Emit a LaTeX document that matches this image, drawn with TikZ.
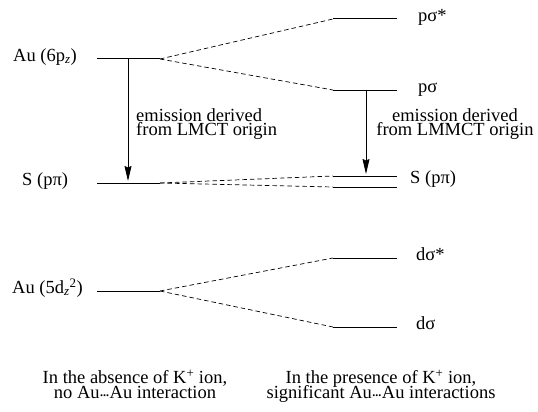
\documentclass[tikz,border=0pt]{standalone}
\usepackage{fontspec}
\setmainfont{Liberation Serif}
\usetikzlibrary{arrows.meta}
\newcommand{\audots}{\kern0.5pt\raisebox{0.12em}{\fontsize{12}{12}\selectfont\bfseries...}\kern0.5pt}
\newcommand{\tightlines}{\lineskiplimit=-100pt\relax}
\begin{document}
\begin{tikzpicture}[x=1pt,y=-1pt,
  lvl/.style={line width=1pt},
  conn/.style={line width=0.7pt, dash pattern=on 4.5pt off 3pt},
  emis/.style={line width=0.8pt, -{Stealth[length=15pt,width=7pt,inset=1.5pt]}},
  lbl/.style={inner sep=0pt, font=\fontsize{18.5}{13.3}\selectfont},
  twoline/.style={inner sep=0pt, font={\fontsize{18.5}{14}\selectfont\tightlines}},
  foot/.style={inner sep=0pt, align=center, font={\fontsize{18.5}{15.5}\selectfont\tightlines}}]
\useasboundingbox (0,0) rectangle (538,412);
% left levels
\coordinate (a6l) at (97,59);  \coordinate (a6r) at (160,59);
\coordinate (spl) at (97,183); \coordinate (spr) at (160,183);
\coordinate (a5l) at (97,291); \coordinate (a5r) at (160,291);
% right levels
\coordinate (psal) at (333,19);  \coordinate (psar) at (397,19);
\coordinate (psl)  at (333,90);  \coordinate (psr)  at (397,90);
\coordinate (s1l)  at (333,176); \coordinate (s1r)  at (397,176);
\coordinate (s2l)  at (333,187); \coordinate (s2r)  at (397,187);
\coordinate (dsal) at (333,258); \coordinate (dsar) at (397,258);
\coordinate (dsl)  at (333,327); \coordinate (dsr)  at (397,327);
\foreach \p in {a6,sp,a5,psa,ps,s1,s2,dsa,ds}{\draw[lvl] (\p l) -- (\p r);}
% correlation lines
\draw[conn] (a6r) -- (psal);
\draw[conn] (a6r) -- (psl);
\draw[conn] (spr) -- (s1l);
\draw[conn] (spr) -- (s2l);
\draw[conn] (a5r) -- (dsal);
\draw[conn] (a5r) -- (dsl);
% emission arrows
\coordinate (e1s) at (128,59);  \coordinate (e1e) at (128,181);
\coordinate (e2s) at (366,90);  \coordinate (e2e) at (366,174);
\draw[emis] (e1s) -- (e1e);
\draw[emis] (e2s) -- (e2e);
% labels
\node[lbl, anchor=mid west] (lau6) at (13,59) {Au (6p\textsubscript{\textit{z}})};
\node[lbl, anchor=mid west] (lsp) at (22,183) {S (pπ)};
\node[lbl, anchor=mid west] (lau5) at (12,291) {Au (5d\textsubscript{\textit{z}}\textsuperscript{2})};
\node[lbl, anchor=mid west] (lpsa) at (418,19) {pσ*};
\node[lbl, anchor=mid west] (lps) at (418,90) {pσ};
\node[lbl, anchor=mid west] (lsp2) at (410,181) {S (pπ)};
\node[lbl, anchor=mid west] (ldsa) at (416,258) {dσ*};
\node[lbl, anchor=mid west] (lds) at (416,327) {dσ};
\node[twoline, align=left, anchor=north west] (em1) at (136,108) {emission derived\\from LMCT origin};
\node[twoline, align=center, anchor=north] (em2) at (455,108) {emission derived\\from LMMCT origin};
\node[foot, anchor=north] (f1) at (135,369.5) {In the absence of K\textsuperscript{+} ion,\\no Au\audots Au interaction};
\node[foot, anchor=north] (f2) at (381,369.5) {In the presence of K\textsuperscript{+} ion,\\significant Au\audots Au interactions};
\end{tikzpicture}
\end{document}
